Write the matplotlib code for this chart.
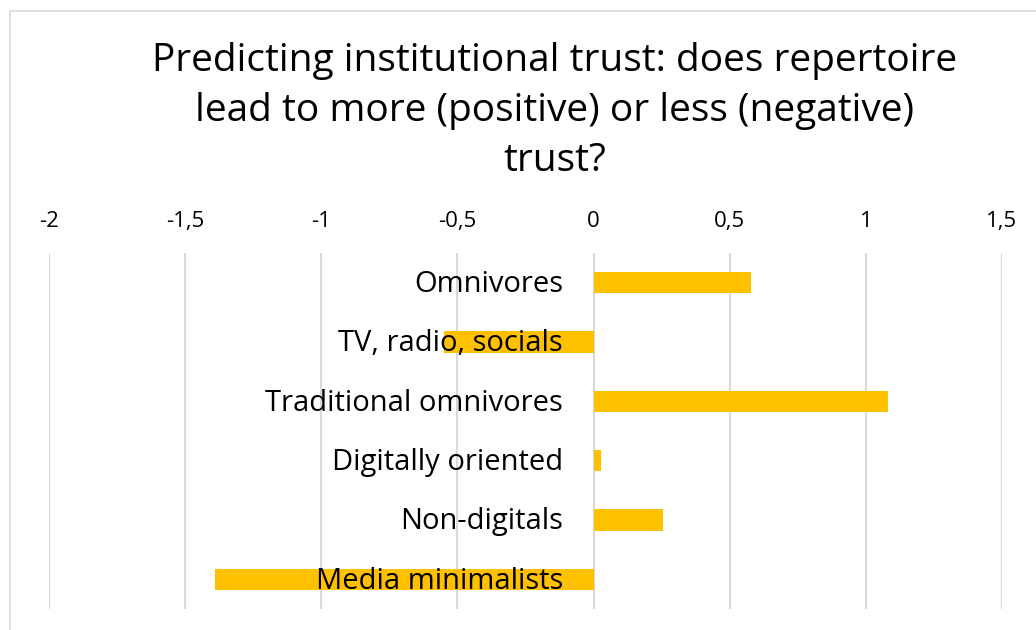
import matplotlib
matplotlib.use("Agg")
import matplotlib.pyplot as plt
from matplotlib.patches import Rectangle
from matplotlib.ticker import FuncFormatter

categories = ["Omnivores", "TV, radio, socials", "Traditional omnivores",
              "Digitally oriented", "Non-digitals", "Media minimalists"]
values = [0.579, -0.549, 1.081, 0.027, 0.256, -1.391]
xticks = [-2, -1.5, -1, -0.5, 0, 0.5, 1, 1.5]
title = "Predicting institutional trust: does repertoire\nlead to more (positive) or less (negative)\ntrust?"

plt.rcParams['font.family'] = ['Open Sans', 'DejaVu Sans']

W, H = 1036, 630
fig = plt.figure(figsize=(W / 100, H / 100), dpi=100)
fig.patch.set_facecolor("white")

# outer chart border (partially cut off at right/bottom)
fig.add_artist(Rectangle((10 / W, -0.1), 1.2, 1 - 11 / H + 0.1,
                         transform=fig.transFigure, fill=False,
                         edgecolor="#D9D9D9", linewidth=1.2))

ax = fig.add_axes([49 / W, 1 - 609 / H, (1002 - 49) / W, (609 - 253) / H])
ypos = list(range(len(categories)))
ax.barh(ypos, values, height=0.36, color="#FFC000", zorder=2)
ax.set_xlim(-2, 1.5)
ax.set_ylim(len(categories) - 0.5, -0.5)
ax.set_xticks(xticks)
ax.xaxis.set_major_formatter(FuncFormatter(lambda v, p: ("%g" % v).replace(".", ",")))
ax.xaxis.tick_top()
ax.tick_params(axis="x", length=0, labelsize=16, pad=15, colors="black")
ax.set_yticks([])
ax.grid(axis="x", color="#D9D9D9", linewidth=1.5, zorder=0)
for s in ax.spines.values():
    s.set_visible(False)

for y, c in zip(ypos, categories):
    ax.text(-0.112, y + 0.03, c, ha="right", va="center", fontsize=21, color="black", zorder=3)

fig.text(555 / W, 1 - 111 / H, title, ha="center", va="center", fontsize=28,
         linespacing=1.42, color="black")

fig.savefig("out.png", dpi=100)
